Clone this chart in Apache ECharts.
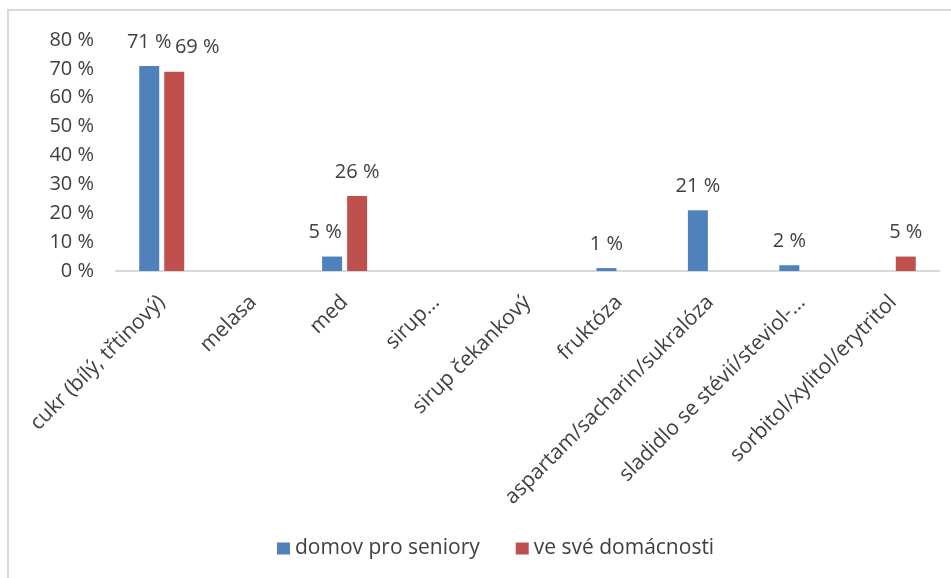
<!DOCTYPE html>
<html>
<head>
<meta charset="utf-8">
<script src="https://cdn.jsdelivr.net/npm/echarts@6/dist/echarts.min.js"></script>
<style>
  html, body { margin: 0; padding: 0; background: #fff; }
  #chart { width: 951px; height: 578px; }
</style>
</head>
<body>
<div id="chart"></div>
<script>
// kategorie a hodnoty (v %)
const categories = ['cukr (bílý, třtinový)', 'melasa', 'med', 'sirup...', 'sirup čekankový',
  'fruktóza', 'aspartam/sacharin/sukralóza', 'sladidlo se stévií/steviol-...', 'sorbitol/xylitol/erytritol'];
const seniorHome = [71, 0, 5, 0, 0, 1, 21, 2, 0];
const ownHome = [69, 0, 26, 0, 0, 0, 0, 0, 5];
const seriesNames = ['domov pro seniory', 've své domácnosti'];
const yTicks = [0, 10, 20, 30, 40, 50, 60, 70, 80];

const font = 'Open Sans, Noto Sans, sans-serif';
const textColor = '#404040';

const chart = echarts.init(document.getElementById('chart'));

function barLabel(){
    return {
        show: true,
        position: 'top',
        distance: 14,
        color: textColor,
        fontFamily: font,
        fontSize: 20,
        formatter: function(p){ return p.value > 0 ? p.value + ' %' : ''; }
    };
}

// popisky 69 % a 5 % jsou v originale posunute, aby se neprekryvaly
const ownHomeData = ownHome.map(function(v, i){
    if(i === 0) return { value: v, label: { offset: [23, 0] } };
    return v;
});
const seniorHomeData = seniorHome.map(function(v, i){
    if(i === 2) return { value: v, label: { offset: [-7, 0] } };
    return v;
});

const option = {
    animation: false,
    graphic: [{
        type: 'polyline',
        shape: { points: [[8, 578], [8, 10], [951, 10]] },
        style: { stroke: '#d9d9d9', lineWidth: 2, fill: null }
    }],
    grid: { left: 116, right: 12, top: 40, bottom: 307 },
    legend: {
        bottom: 14,
        left: 272,
        itemWidth: 13,
        itemHeight: 12,
        itemGap: 36,
        icon: 'rect',
        textStyle: { color: textColor, fontFamily: font, fontSize: 21 },
        data: seriesNames
    },
    xAxis: {
        type: 'category',
        data: categories,
        axisLine: { lineStyle: { color: '#d9d9d9', width: 2 } },
        axisTick: { show: false },
        axisLabel: {
            interval: 0,
            rotate: 45,
            margin: 28,
            color: textColor,
            fontFamily: font,
            fontSize: 21
        }
    },
    yAxis: {
        type: 'value',
        min: yTicks[0],
        max: yTicks[yTicks.length - 1],
        interval: 10,
        axisLine: { show: false },
        axisTick: { show: false },
        splitLine: { show: false },
        axisLabel: {
            margin: 22,
            color: textColor,
            fontFamily: font,
            fontSize: 20,
            formatter: function(v){ return v + ' %'; }
        }
    },
    series: [
        {
            name: seriesNames[0],
            type: 'bar',
            data: seniorHomeData,
            barWidth: 20,
            barGap: '25%',
            itemStyle: { color: '#4F81BD' },
            label: barLabel()
        },
        {
            name: seriesNames[1],
            type: 'bar',
            data: ownHomeData,
            barWidth: 20,
            itemStyle: { color: '#C0504D' },
            label: barLabel()
        }
    ]
};

chart.setOption(option);
</script>
</body>
</html>
